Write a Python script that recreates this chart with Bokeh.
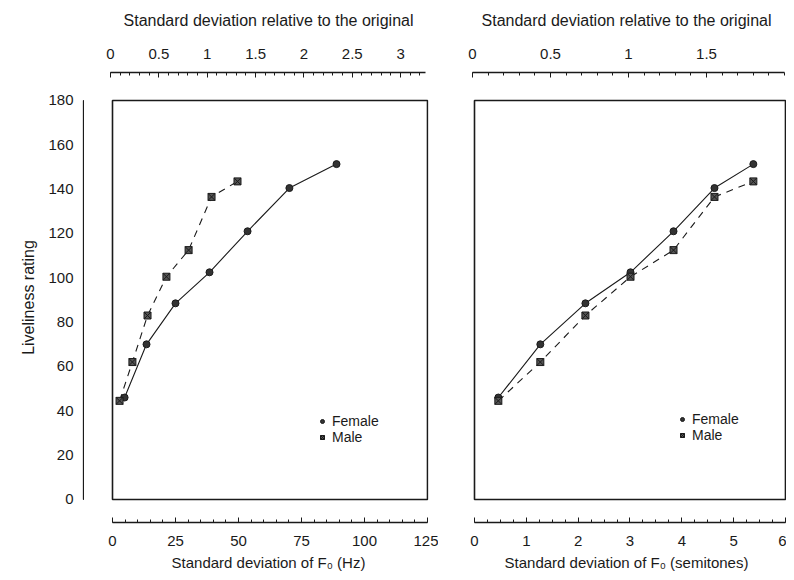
from bokeh.plotting import figure
from bokeh.models import (Range1d, LinearAxis, FixedTicker, BoxAnnotation, Legend,
                          LegendItem, NumeralTickFormatter)
from bokeh.layouts import row
from bokeh.embed import file_html
from bokeh.resources import INLINE

# ---------------- data ----------------
female_hz = [4.8, 13.5, 25.0, 38.5, 53.6, 70.2, 88.9]
male_hz = [2.8, 7.9, 13.9, 21.4, 30.2, 39.3, 49.6]
semitones = [0.46, 1.27, 2.14, 3.01, 3.84, 4.63, 5.38]
female_rating = [46, 70, 88.5, 102.5, 121, 140.5, 151.3]
male_rating = [44.5, 62, 83, 100.5, 112.5, 136.5, 143.5]

y_ticks = [0, 20, 40, 60, 80, 100, 120, 140, 160, 180]
y_minor = list(range(0, 181, 10))
hz_ticks = [0, 25, 50, 75, 100, 125]
hz_minor = list(range(0, 126, 5))
st_ticks = [0, 1, 2, 3, 4, 5, 6]
st_minor = [i * 0.25 for i in range(0, 25)]
rel_left_ticks = [0, 0.5, 1, 1.5, 2, 2.5, 3]
rel_left_minor = [i / 10 for i in range(0, 33)]
rel_right_ticks = [0, 0.5, 1, 1.5]
rel_right_minor = [i / 10 for i in range(0, 21)]

TOP_TITLE = "Standard deviation relative to the original"
HZ_TITLE = "Standard deviation of F\u2080 (Hz)"
ST_TITLE = "Standard deviation of F\u2080 (semitones)"
Y_TITLE = "Liveliness rating"

FONT = "Liberation Sans"
INK = "#1a1a1a"


def style_axis(ax, ticks, minor, title, title_size="16px", label_standoff=12, title_standoff=8):
    ax.ticker = FixedTicker(ticks=ticks, minor_ticks=minor)
    ax.formatter = NumeralTickFormatter(format="0.[0]")
    ax.axis_line_color = INK
    ax.axis_line_width = 1.3
    ax.major_tick_line_color = INK
    ax.minor_tick_line_color = INK
    ax.major_tick_in = 5
    ax.major_tick_out = 0
    ax.minor_tick_in = 3
    ax.minor_tick_out = 0
    ax.major_label_text_font = FONT
    ax.major_label_text_font_size = "15px"
    ax.major_label_text_color = INK
    ax.major_label_standoff = label_standoff
    ax.axis_label = title
    ax.axis_label_text_font = FONT
    ax.axis_label_text_font_size = title_size
    ax.axis_label_text_font_style = "normal"
    ax.axis_label_text_color = INK
    ax.axis_label_standoff = title_standoff


def make_legend(rf, rm, loc):
    return Legend(items=[LegendItem(label="Female", renderers=[rf]),
                         LegendItem(label="Male", renderers=[rm])],
                  location=loc, border_line_color=None, background_fill_alpha=0,
                  padding=0, margin=0, spacing=0, glyph_width=10, glyph_height=10,
                  label_height=15, label_standoff=5, label_text_font=FONT,
                  label_text_font_size="14px", label_text_color=INK)


y_range = Range1d(-10.38, 192.63)
COMMON = dict(output_backend="svg", toolbar_location=None, frame_height=450,
              min_border_top=72, min_border_bottom=56,
              background_fill_color="white", border_fill_color="white", outline_line_color=None)

# ---------------- detached rating axis ----------------
py = figure(frame_width=1, x_range=Range1d(0, 1), y_range=y_range, x_axis_location=None,
            min_border_left=83, min_border_right=0, **COMMON)
py.grid.visible = False
left_axis = py.yaxis[0]
style_axis(left_axis, y_ticks, y_minor, Y_TITLE, "16px", 10, 8)
left_axis.bounds = (0, 180)

# ---------------- left panel (Hz) ----------------
p1 = figure(frame_width=320, x_range=Range1d(-1.587, 125.40), y_range=y_range,
            y_axis_location=None, min_border_left=24, min_border_right=10, **COMMON)
p1.grid.visible = False
bottom1 = p1.xaxis[0]
p1.extra_x_ranges = {"rel": Range1d(-0.0207, 3.2885)}
top1 = LinearAxis(x_range_name="rel")
p1.add_layout(top1, "above")

style_axis(bottom1, hz_ticks, hz_minor, HZ_TITLE, "15px", 13, 5)
bottom1.bounds = (0, 125)
style_axis(top1, rel_left_ticks, rel_left_minor, TOP_TITLE, "16px", 14, 17)
top1.bounds = (0, 3.26)

p1.add_layout(BoxAnnotation(left=0, right=125, bottom=0, top=180, fill_color=None,
                            line_color=INK, line_alpha=1.0, line_width=1.6))

p1.line(female_hz, female_rating, line_color=INK, line_width=1.1)
p1.line(male_hz, male_rating, line_color=INK, line_width=1.1, line_dash="7 6")
rf1 = p1.scatter(female_hz, female_rating, marker="circle", size=7, fill_color="#333333", line_color=INK)
rm1 = p1.scatter(male_hz, male_rating, marker="square_x", size=7, fill_color="#555555", line_color=INK)
p1.add_layout(make_legend(rf1, rm1, (209, 77.5)))

# ---------------- right panel (semitones) ----------------
p2 = figure(frame_width=320, x_range=Range1d(-0.1543, 6.0197), y_range=y_range,
            y_axis_location=None, min_border_left=28, min_border_right=0, **COMMON)
p2.grid.visible = False
bottom2 = p2.xaxis[0]
p2.extra_x_ranges = {"rel": Range1d(-0.0385, 2.0128)}
top2 = LinearAxis(x_range_name="rel")
p2.add_layout(top2, "above")

style_axis(bottom2, st_ticks, st_minor, ST_TITLE, "15px", 13, 5)
bottom2.bounds = (0, 6)
style_axis(top2, rel_right_ticks, rel_right_minor, TOP_TITLE, "16px", 14, 17)
top2.bounds = (0, 2.0)

p2.add_layout(BoxAnnotation(left=0, right=6, bottom=0, top=180, fill_color=None,
                            line_color=INK, line_alpha=1.0, line_width=1.6))

p2.line(semitones, female_rating, line_color=INK, line_width=1.1)
p2.line(semitones, male_rating, line_color=INK, line_width=1.1, line_dash="7 6")
rf2 = p2.scatter(semitones, female_rating, marker="circle", size=7, fill_color="#333333", line_color=INK)
rm2 = p2.scatter(semitones, male_rating, marker="square_x", size=7, fill_color="#555555", line_color=INK)
p2.add_layout(make_legend(rf2, rm2, (211, 79.5)))

layout = row(py, p1, p2)
open("out.html", "w").write(file_html(layout, INLINE))
